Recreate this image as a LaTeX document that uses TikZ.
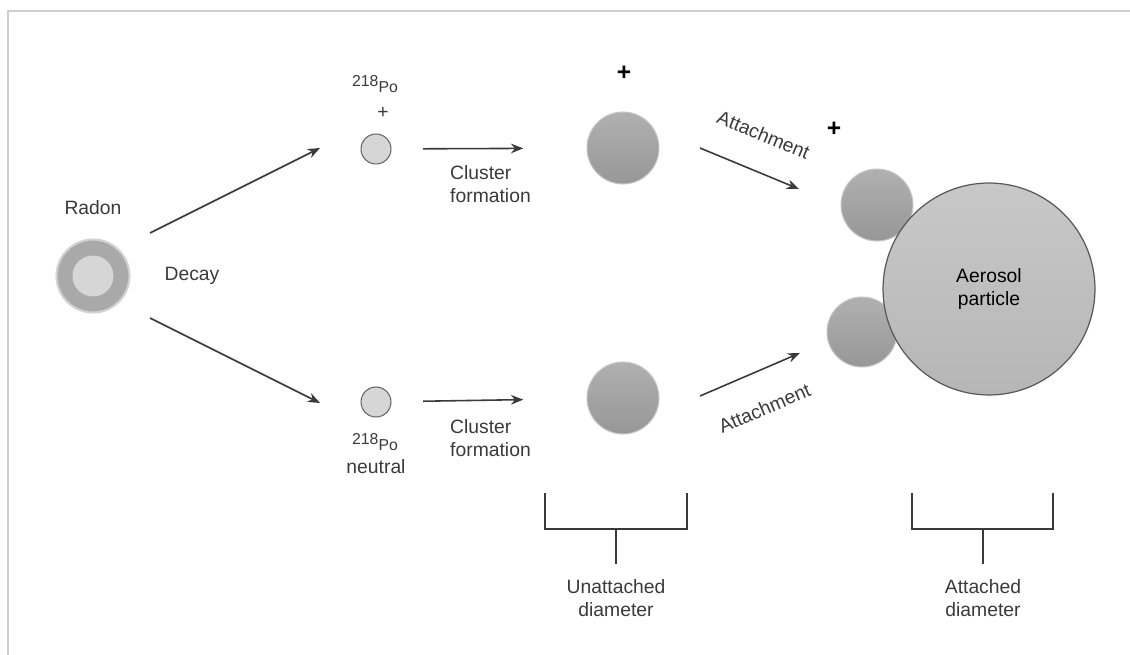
\documentclass[tikz,border=0pt]{standalone}
\usepackage{fontspec}
\setmainfont{Liberation Sans}
\usepackage{xcolor}
\usepackage{tikz}
\usetikzlibrary{positioning, shapes, arrows.meta}

\definecolor{inkgray}{HTML}{3A3A3A}
\definecolor{framegray}{HTML}{CFCFCF}
\definecolor{ringgray}{HTML}{A9A9A9}
\definecolor{coregray}{HTML}{D6D6D6}
\definecolor{ballhi}{HTML}{B0B0B0}
\definecolor{balllo}{HTML}{979797}
\definecolor{aerohi}{HTML}{C8C8C8}
\definecolor{aerolo}{HTML}{B6B6B6}

\begin{document}
\begin{tikzpicture}[>={Stealth[length=7pt, width=5.5pt]}, x=0.02cm, y=-0.02cm,
    font=\fontsize{11}{13}\selectfont, text=inkgray,
    ball/.style={circle, inner sep=0pt, shading=axis, top color=ballhi, bottom color=balllo, draw=gray!45, line width=0.6pt},
    atom/.style={circle, inner sep=0pt, fill=coregray, draw=gray!80!black, line width=0.6pt, minimum size=0.6cm},
    charge/.style={font=\fontsize{14}{14}\selectfont\bfseries, text=black},
    flow/.style={->, draw=inkgray, line width=0.9pt},
    bracket/.style={draw=inkgray, line width=0.7pt}]

    \useasboundingbox (0,0) rectangle (1130,655);

    % Frame
    \draw[framegray, line width=1.1pt] (8,655) -- (8,11) -- (1130,11);

    % Radon
    \node[circle, inner sep=0pt, fill=ringgray, draw=gray!35, line width=1.2pt, minimum size=1.46cm] (radon) at (93,276) {};
    \node[circle, inner sep=0pt, fill=coregray, minimum size=0.82cm] (radonCore) at (radon) {};
    \node (radonLbl) at (93,208) {Radon};
    \node (decayLbl) at (192,276) {Decay};

    % Po-218 atoms
    \node[atom] (poUp) at (376,149) {};
    \node (poUpLbl) at (375,84) {{\small\raisebox{3.5pt}{218}Po}};
    \node (poUpPlus) at (383,113) {+};
    \node[atom] (poDn) at (376,402) {};
    \node (poDnLbl) at (375,442) {{\small\raisebox{3.5pt}{218}Po}};
    \node (neutralLbl) at (376,467) {neutral};

    % Clusters
    \node[ball, minimum size=1.44cm] (clUp) at (623,148) {};
    \node[charge] (clUpPlus) at (624,73) {+};
    \node[ball, minimum size=1.44cm] (clDn) at (623,398) {};
    \node[anchor=west, align=left] (formUpLbl) at (444,184) {Cluster\\formation};
    \node[anchor=west, align=left] (formDnLbl) at (444,438) {Cluster\\formation};

    % Aerosol with attached clusters
    \node[ball, minimum size=1.44cm] (attUp) at (877,205) {};
    \node[ball, minimum size=1.40cm] (attDn) at (862,332) {};
    \node[circle, inner sep=0pt, shading=axis, top color=aerohi, bottom color=aerolo, draw=gray!70!black, line width=0.7pt,
          minimum size=4.24cm, align=center, text=black] (aerosol) at (989,289) {Aerosol\\particle};
    \node[charge] (attPlus) at (834,129) {+};

    % Decay arrows
    \coordinate (decUpS) at (150,233);
    \coordinate (decUpE) at (320,148);
    \coordinate (decDnS) at (150,318);
    \coordinate (decDnE) at (320,403);
    \draw[flow] (decUpS) -- (decUpE);
    \draw[flow] (decDnS) -- (decDnE);

    % Cluster formation arrows
    \draw[flow, shorten <=18pt, shorten >=36pt] (poUp) -- (clUp);
    \draw[flow, shorten <=18pt, shorten >=36pt] (poDn) -- (clDn);

    % Attachment arrows
    \coordinate (attUpS) at (700,148);
    \coordinate (attUpE) at (799,189);
    \coordinate (attDnS) at (700,396);
    \coordinate (attDnE) at (800,353);
    \draw[flow] (attUpS) -- node[sloped, above=13pt, pos=0.5] {Attachment} (attUpE);
    \draw[flow] (attDnS) -- node[sloped, below=13pt, pos=0.5] {Attachment} (attDnE);

    % Diameter brackets
    \draw[bracket] (545,493) -- (545,529) -- (687,529) -- (687,493);
    \draw[bracket] (616,529) -- (616,564);
    \node[align=center] (unattLbl) at (616,598) {Unattached\\diameter};
    \draw[bracket] (912,493) -- (912,529) -- (1053,529) -- (1053,493);
    \draw[bracket] (983,529) -- (983,564);
    \node[align=center] (attLbl) at (983,598) {Attached\\diameter};

\end{tikzpicture}
\end{document}
